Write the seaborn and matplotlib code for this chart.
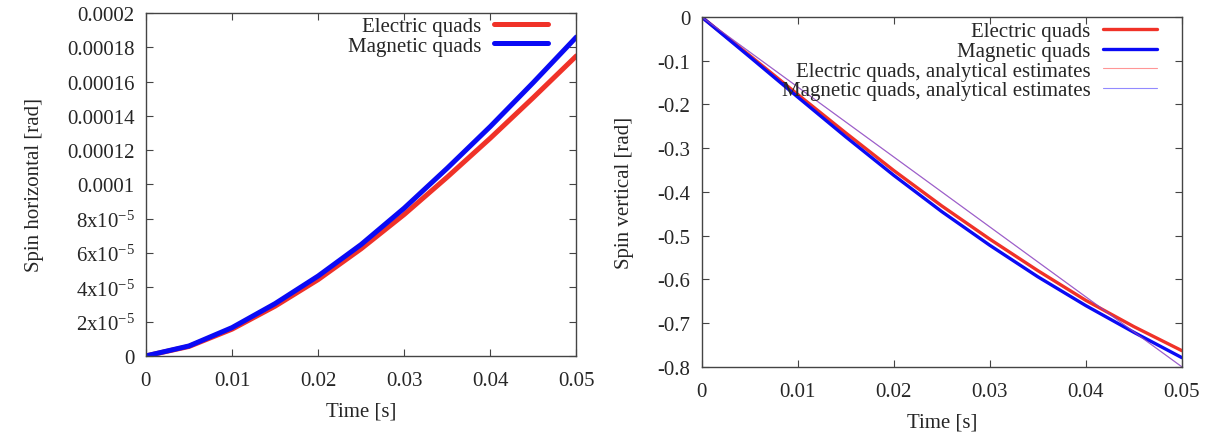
import numpy as np
import pandas as pd
import matplotlib
matplotlib.use("Agg")
import matplotlib.pyplot as plt
import seaborn as sns

# Time axis (s)
time_s = [0.0, 0.005, 0.01, 0.015, 0.02, 0.025, 0.03, 0.035, 0.04, 0.045, 0.05]

# Horizontal spin (rad)
horiz_electric = [0.0, 5.5e-6, 1.56e-5, 2.90e-5, 4.45e-5, 6.25e-5, 8.25e-5, 1.043e-4, 1.270e-4, 1.507e-4, 1.75e-4]
horiz_magnetic = [0.0, 5.8e-6, 1.65e-5, 3.05e-5, 4.66e-5, 6.5e-5, 8.62e-5, 1.095e-4, 1.338e-4, 1.595e-4, 1.86e-4]

# Vertical spin (rad)
vert_electric = [0.0, -0.088, -0.177, -0.265, -0.351, -0.432, -0.508, -0.580, -0.648, -0.708, -0.763]
vert_magnetic = [0.0, -0.091, -0.183, -0.274, -0.362, -0.445, -0.522, -0.594, -0.660, -0.721, -0.779]

# Analytical estimates (straight lines, both the same)
est_time = [0.0, 0.05]
est_electric = [0.0, -0.8]
est_magnetic = [0.0, -0.8]

# Tick labels
x_ticks = [0, 0.01, 0.02, 0.03, 0.04, 0.05]
x_labels = ["0", "0.01", "0.02", "0.03", "0.04", "0.05"]
h_ticks = [0, 2e-5, 4e-5, 6e-5, 8e-5, 1e-4, 1.2e-4, 1.4e-4, 1.6e-4, 1.8e-4, 2e-4]
h_labels = ["0", "2x10$^{-5}$", "4x10$^{-5}$", "6x10$^{-5}$", "8x10$^{-5}$",
            "0.0001", "0.00012", "0.00014", "0.00016", "0.00018", "0.0002"]
v_ticks = [0, -0.1, -0.2, -0.3, -0.4, -0.5, -0.6, -0.7, -0.8]
v_labels = ["0", "-0.1", "-0.2", "-0.3", "-0.4", "-0.5", "-0.6", "-0.7", "-0.8"]

RED = "#f03228"
BLUE = "#0a0af5"

sns.set_style("ticks")
plt.rcParams["font.family"] = ["Liberation Serif", "DejaVu Serif"]
plt.rcParams["mathtext.fontset"] = "custom"
plt.rcParams["mathtext.rm"] = "Liberation Serif"
plt.rcParams["mathtext.it"] = "Liberation Serif:italic"
plt.rcParams["axes.unicode_minus"] = False
plt.rcParams["font.size"] = 15

fig = plt.figure(figsize=(12.16, 4.39), dpi=100)
ax1 = fig.add_axes([0.120, 0.187, 0.354, 0.781])
ax2 = fig.add_axes([0.577, 0.162, 0.395, 0.797])

# --- left panel: horizontal spin ---
sns.lineplot(x=time_s, y=horiz_electric, ax=ax1, color=RED, lw=3.6, label="Electric quads")
sns.lineplot(x=time_s, y=horiz_magnetic, ax=ax1, color=BLUE, lw=3.6, label="Magnetic quads")
ax1.set_xlim(0, 0.05)
ax1.set_ylim(0, 0.0002)
ax1.set_yticks(h_ticks)
ax1.set_yticklabels(h_labels)
ax1.set_ylabel("Spin horizontal [rad]", labelpad=17)

# --- right panel: vertical spin ---
sns.lineplot(x=time_s, y=vert_electric, ax=ax2, color=RED, lw=2.4, label="Electric quads")
sns.lineplot(x=time_s, y=vert_magnetic, ax=ax2, color=BLUE, lw=2.4, label="Magnetic quads")
sns.lineplot(x=est_time, y=est_electric, ax=ax2, color="#ff5050", lw=0.8, alpha=0.6,
             label="Electric quads, analytical estimates")
sns.lineplot(x=est_time, y=est_magnetic, ax=ax2, color="#4a3cff", lw=0.8, alpha=0.6,
             label="Magnetic quads, analytical estimates")
ax2.set_xlim(0, 0.05)
ax2.set_ylim(-0.8, 0)
ax2.set_yticks(v_ticks)
ax2.set_yticklabels(v_labels)
ax2.set_ylabel("Spin vertical [rad]", labelpad=17)

for ax in (ax1, ax2):
    ax.set_xticks(x_ticks)
    ax.set_xticklabels(x_labels)
    ax.set_xlabel("Time [s]", labelpad=8)
    ax.tick_params(direction="in", length=5, width=0.8, top=True, right=True,
                   labelsize=15, pad=8, color="#444444")
    ax.tick_params(axis="x", pad=11)
    for sp in ax.spines.values():
        sp.set_color("#444444")
        sp.set_linewidth(1.0)

ax1.legend(loc="upper right", bbox_to_anchor=(0.935, 0.99), frameon=False,
           markerfirst=False, handlelength=2.6, handletextpad=0.6,
           labelspacing=0.0, borderpad=0, borderaxespad=0, fontsize=15)
ax2.legend(loc="upper right", bbox_to_anchor=(0.948, 0.986), frameon=False,
           markerfirst=False, handlelength=2.6, handletextpad=0.6,
           labelspacing=0.0, borderpad=0, borderaxespad=0, fontsize=15)

fig.savefig("out.png", dpi=100)
